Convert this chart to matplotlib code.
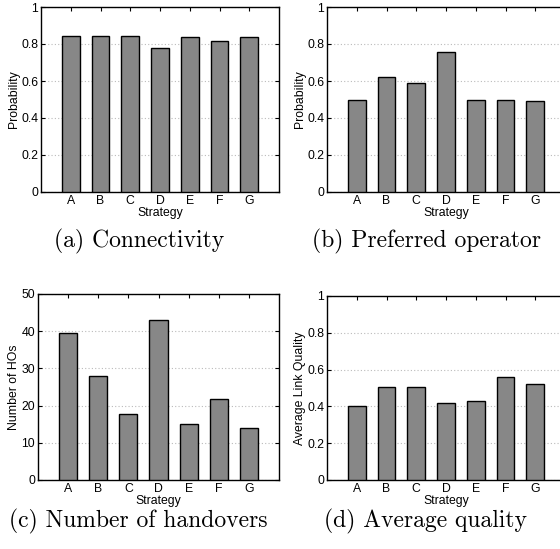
import matplotlib
matplotlib.use("Agg")
import matplotlib.pyplot as plt
from matplotlib.ticker import FixedLocator, FixedFormatter

strategies = ["A", "B", "C", "D", "E", "F", "G"]
connectivity = [0.843, 0.843, 0.841, 0.776, 0.839, 0.818, 0.838]
preferred = [0.496, 0.619, 0.587, 0.756, 0.496, 0.496, 0.493]
handovers = [39.6, 28.0, 17.7, 43.0, 15.1, 21.9, 14.1]
quality = [0.403, 0.508, 0.503, 0.418, 0.429, 0.562, 0.521]

prob_ticks = [0, 0.2, 0.4, 0.6, 0.8, 1]
prob_labels = ["0", "0.2", "0.4", "0.6", "0.8", "1"]
ho_ticks = [0, 10, 20, 30, 40, 50]
ho_labels = ["0", "10", "20", "30", "40", "50"]

captions = ["(a) Connectivity", "(b) Preferred operator",
            "(c) Number of handovers", "(d) Average quality"]

W, H = 560, 549
fig = plt.figure(figsize=(W / 100, H / 100), dpi=100)
sans = ["Liberation Sans", "DejaVu Sans"]

def make_ax(x0, y0, x1, y1):
    return fig.add_axes([x0 / W, 1 - y1 / H, (x1 - x0) / W, (y1 - y0) / H])

panels = [
    (make_ax(41, 7, 279, 192), connectivity, prob_ticks, prob_labels, (0, 1), "Probability"),
    (make_ax(327, 7, 565, 192), preferred, prob_ticks, prob_labels, (0, 1), "Probability"),
    (make_ax(38, 294, 279, 480), handovers, ho_ticks, ho_labels, (0, 50), "Number of HOs"),
    (make_ax(327, 296, 565, 480), quality, prob_ticks, prob_labels, (0, 1), "Average Link Quality"),
]

pos = list(range(1, len(strategies) + 1))
for ax, vals, yt, yl, ylim, ylabel in panels:
    ax.bar(pos, vals, width=0.6, color="#878787", edgecolor="black", linewidth=1.0, zorder=3)
    ax.set_xlim(0, 8)
    ax.set_ylim(*ylim)
    ax.set_xticks(pos)
    ax.set_xticklabels(strategies, fontfamily=sans, fontsize=8.8)
    ax.yaxis.set_major_locator(FixedLocator(yt))
    ax.yaxis.set_major_formatter(FixedFormatter(yl))
    for lab in ax.get_yticklabels():
        lab.set_fontfamily(sans)
        lab.set_fontsize(8.8)
    ax.tick_params(direction="in", top=True, right=True, length=3, width=0.8, pad=2)
    ax.grid(axis="y", linestyle=(0, (1, 2)), color="#bbbbbb", linewidth=0.8, zorder=0)
    ax.set_axisbelow(True)
    ax.set_ylabel(ylabel, fontfamily=sans, fontsize=8.8, labelpad=1)
    ax.set_xlabel("Strategy", fontfamily=sans, fontsize=8.8, labelpad=0)
    for s in ax.spines.values():
        s.set_linewidth(1.0)

cap_pos = [(139, 241), (426, 241), (138, 521), (426, 521)]
for (cx, cy), txt in zip(cap_pos, captions):
    fig.text(cx / W, 1 - cy / H, txt, ha="center", va="center",
             fontfamily=["cmr10", "DejaVu Serif"], fontsize=17)

fig.savefig("out.png", dpi=100)
